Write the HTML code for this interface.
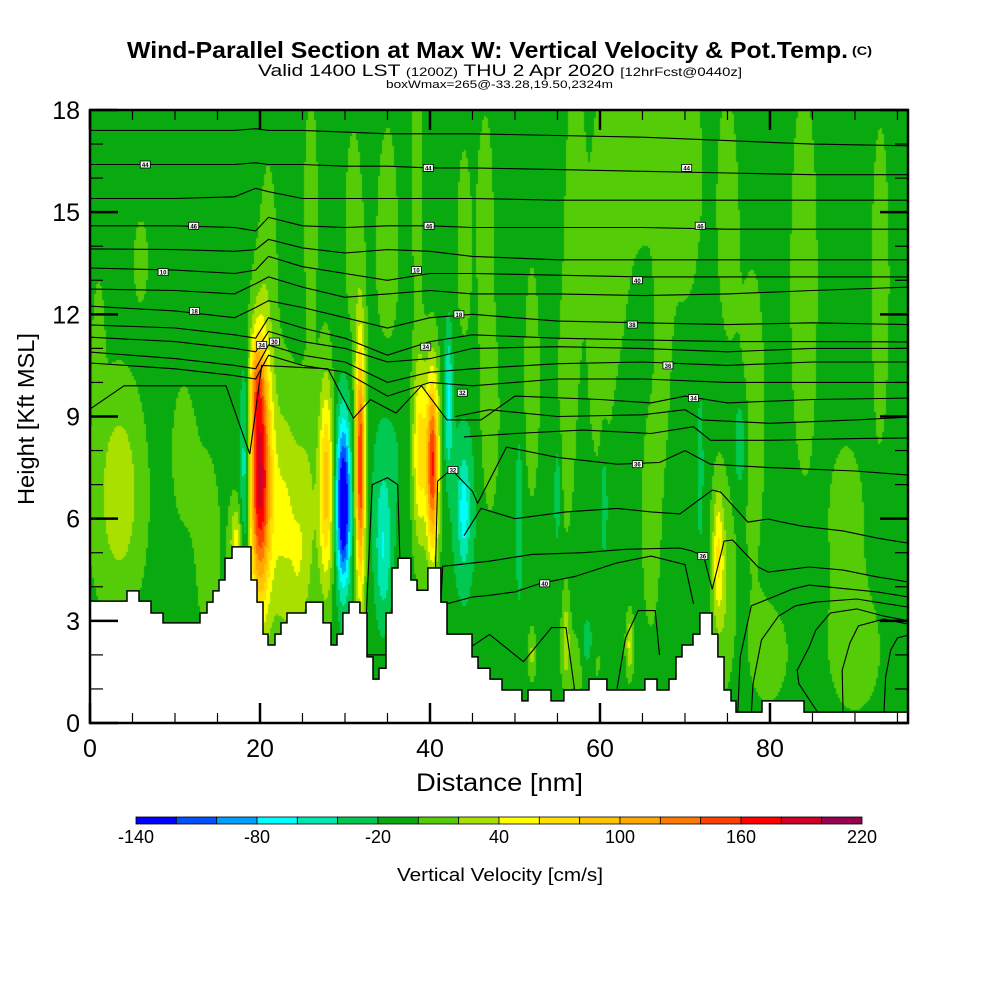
<!DOCTYPE html>
<html><head><meta charset="utf-8">
<style>
html,body{margin:0;padding:0;background:#fff;}
#wrap{position:relative;width:1000px;height:1000px;overflow:hidden;background:#fff;}
#field{position:absolute;left:90px;top:110px;}
#ov{position:absolute;left:0;top:0;}
text{font-family:"Liberation Sans",sans-serif;}
</style></head>
<body>
<div id="wrap">
<canvas id="field" width="818" height="613"></canvas>
<svg id="ov" width="1000" height="1000">
 <defs><clipPath id="pc"><rect x="90" y="110" width="818" height="613"/></clipPath></defs>
 <g id="contours" clip-path="url(#pc)"></g>
 <g id="terrain" clip-path="url(#pc)"></g>
 <g id="labels"></g>
 <g id="axes"></g>
 <g id="cbar"></g>
 <text x="127" y="58" font-size="23" font-weight="bold" textLength="721" lengthAdjust="spacingAndGlyphs">Wind-Parallel Section at Max W: Vertical Velocity &amp; Pot.Temp.</text>
 <text x="852" y="55" font-size="12" font-weight="bold" textLength="20" lengthAdjust="spacingAndGlyphs">(C)</text>
 <text x="258" y="76" font-size="17" textLength="484" lengthAdjust="spacingAndGlyphs">Valid 1400 LST <tspan font-size="12">(1200Z)</tspan> THU 2 Apr 2020 <tspan font-size="12">[12hrFcst@0440z]</tspan></text>
 <text x="386" y="88" font-size="11" textLength="227" lengthAdjust="spacingAndGlyphs">boxWmax=265@-33.28,19.50,2324m</text>
 <text x="416" y="791" font-size="25" textLength="167" lengthAdjust="spacingAndGlyphs">Distance [nm]</text>
 <text transform="translate(34,505) rotate(-90)" font-size="23" textLength="172" lengthAdjust="spacingAndGlyphs">Height [Kft MSL]</text>
 <text x="397" y="881" font-size="18" textLength="206" lengthAdjust="spacingAndGlyphs">Vertical Velocity [cm/s]</text>
</svg>
</div>
<script>
// ---------- data ----------
const xMax = 96.24, zMax = 18;
const levelColors = ["#0000ff","#0050ff","#00a0ff","#00ffff","#00e8b0","#00c850","#08aa10","#55cc08","#aae000","#ffff00","#ffe000","#ffc400","#ffa800","#ff7800","#ff4000","#ff0000","#d00028","#9a0050"];
const levelMin = -140, levelStep = 20;
const cbarLabels = [-140,-80,-20,40,100,160,220];
const xTickLabels = [0,20,40,60,80];
const yTickLabels = [0,3,6,9,12,15,18];
const baseW = -8;
// blobs: [x nm, z kft, sx nm, sz kft, amplitude cm/s]
const blobX   = [3.5,3,1,6,14,26,35,38.5,44,64,70,62,84,93,47,52,56,60,66,78,89,90,80,58,63.5,56,52,73.9,74.5,76.5,71.8,60.5,50.5,55,58.5,17.2,18.3,20.0,19.6,22.8,25.5,27.8,29.8,30,31.8,34.5,35,38.8,40.3,42.2,44,44,11,24.5,21,31,46.5,57,67.5,75];
const blobZ   = [6.8,6.5,11.5,13.6,5,15,13,16,14,17,16,15,13,13,9,10,9,11,6,9,6,2,2,1.8,2.3,2.5,2,5,4,8.2,7.5,6.5,6,6.8,2.3,5.3,7.5,7.2,10,6,6,7,6.4,7,7.5,5,8,8,7.6,9.5,6.3,6.2,8,4,13.5,14,15,15,12,15];
const blobSX  = [1.6,3,0.5,0.7,1.3,0.7,1.2,0.6,0.7,3.5,1.6,1.0,1.4,0.9,1.0,0.8,0.9,1.2,1.0,1.3,1.8,2.6,1.8,1.8,0.3,0.3,0.3,0.45,0.9,0.5,0.25,0.3,0.3,0.3,0.5,0.5,0.45,0.9,0.6,1.3,1,0.6,0.55,1,0.4,0.7,1.5,0.6,0.5,0.35,0.9,0.3,1.3,0.7,0.8,0.9,0.8,0.8,0.7,1.0];
const blobSZ  = [1.8,3,1.2,1,2.5,3,4,2.5,2.5,2.5,3,3,5,4,2.5,3,3,3,3,4,2,1.5,1.2,0.8,0.6,0.8,0.5,1.3,2,1,1.5,1.2,1.8,1.2,0.6,0.8,2.2,2.6,1,2.6,2.3,2.1,1.6,2.4,2.5,1.5,2,1.9,1.8,1.5,1.8,0.7,2,1.5,2.5,3,2.5,3,3,3];
const blobAmp = [34,12,15,15,14,15,15,15,15,16,15,15,15,15,15,15,15,15,14,14,14,14,14,15,50,42,32,55,26,-35,-30,-30,-30,-30,-35,55,-62,195,55,50,32,100,-135,-22,175,-48,-22,80,170,-55,-42,-30,12,16,15,15,15,15,15,15];
// terrain steps: start distance (nm) and height (kft)
const terrStart = [0,4.35,5.76,7.18,8.59,12.94,13.76,14.47,15.18,15.88,16.71,18.94,19.65,20.35,20.94,21.76,22.47,23.18,25.41,27.41,28.35,29.06,29.76,30.47,31.76,32.59,33.29,34.0,34.82,35.53,36.24,37.76,38.47,39.76,41.29,42.0,44.94,45.65,47.06,48.47,50.82,51.53,54.24,55.76,58.71,60.82,65.29,66.71,68.12,68.94,69.65,70.94,71.76,73.18,73.88,74.59,75.41,76.0,79.06,84.0];
const terrH = [3.58,3.88,3.58,3.23,2.94,3.23,3.55,3.88,4.20,4.84,5.17,4.20,3.55,2.61,2.29,2.61,2.94,3.23,3.55,2.94,2.29,2.61,3.23,3.55,3.23,1.94,1.29,1.61,3.23,4.55,4.84,4.20,3.90,4.55,3.55,2.61,1.94,1.61,1.29,0.97,0.65,0.97,0.65,0.97,1.29,0.97,1.29,0.97,1.29,1.94,2.29,2.61,3.23,2.61,1.94,0.97,0.65,0.32,0.65,0.32];
// potential temperature contours (nm, kft)
const flatX = [0,10,17,19.5,21,25,30,35,40,45,55,65,75,85,96.3];
const flatLines = [
 [17.4,17.4,17.4,17.45,17.4,17.4,17.35,17.3,17.3,17.3,17.25,17.2,17.1,17.0,16.95],
 [16.4,16.4,16.4,16.45,16.4,16.4,16.35,16.35,16.3,16.3,16.25,16.2,16.15,16.1,16.1],
 [15.4,15.4,15.45,15.7,15.6,15.4,15.4,15.4,15.4,15.4,15.35,15.35,15.35,15.35,15.35],
 [14.6,14.6,14.55,14.45,14.85,14.6,14.55,14.6,14.6,14.55,14.55,14.55,14.5,14.5,14.5],
 [13.92,13.9,13.85,13.9,14.2,13.95,13.8,13.9,13.85,13.7,13.6,13.6,13.6,13.6,13.6],
 [13.36,13.3,13.2,13.3,13.7,13.4,13.2,13.0,13.2,13.2,13.15,13.1,13.1,13.1,13.1],
 [12.74,12.7,12.6,12.9,13.1,12.8,12.5,12.6,12.7,12.6,12.6,12.55,12.6,12.7,12.8],
 [12.24,12.1,11.9,12.2,12.4,12.2,11.9,11.6,11.9,12.0,11.8,11.75,11.7,11.75,11.7],
 [11.69,11.6,11.4,11.3,11.9,11.6,11.3,10.8,11.2,11.4,11.3,11.25,11.2,11.2,11.19],
 [11.33,11.2,11.0,10.9,11.5,11.2,11.0,10.6,10.7,11.0,11.05,11.0,10.9,11.0,11.0],
 [10.89,10.7,10.5,10.4,11.1,10.8,10.6,10.0,10.3,10.4,10.55,10.6,10.5,10.6,10.6],
 [10.57,10.4,10.2,10.1,10.8,10.5,10.3,9.6,10.0,9.9,10.1,10.1,10.0,10.0,10.0]
];
const freeLines = [
 [[0,9.22],[4,9.9],[16,9.9],[18.8,7.9],[20.2,10.5],[28,10.4],[31,8.95],[33,9.5],[36,9.1],[39,9.9],[42,8.9],[46,8.9],[50,9.6],[60,9.5],[66,9.4],[70,9.6],[75,9.4],[85,9.5],[96.3,9.54]],
 [[43,9.0],[47,9.2],[55,9.0],[65,9.05],[70,9.2],[72,8.9],[80,8.8],[90,8.9],[96.3,8.98]],
 [[44,8.4],[50,8.5],[58,8.6],[66,8.5],[71,8.7],[73,8.3],[80,8.3],[90,8.35],[96.3,8.37]],
 [[0,2],[40.4,2],[40.9,7.1],[42.5,7.45],[45,6.8],[45.6,6.45],[49,8.1],[55,7.8],[62,7.6],[67,7.65],[70,8.0],[73,7.6],[80,7.5],[90,7.4],[96.3,7.28]],
 [[32.3,2],[33.2,7.0],[35,7.2],[36.2,7.0],[36.5,4.5]],
 [[44,5.5],[46,6.3],[50,6.0],[56,6.2],[62,6.3],[66,6.2],[69.4,6.14],[73.2,6.84],[74.2,6.78],[77.4,5.9],[79.8,5.99],[81.4,5.9],[83.8,5.78],[88.6,5.64],[92.6,5.43],[96.3,5.28]],
 [[0,2],[41,2],[41.5,4.6],[47,4.75],[52,4.95],[58,5.0],[63,5.1],[69.4,5.14],[70.8,5.05],[72.2,4.9],[73.2,3.93],[74.6,5.34],[75.6,5.37],[78.6,4.58],[79.8,4.43],[84.6,4.58],[88.6,4.49],[92.6,4.29],[96.3,4.14]],
 [[41.8,2],[42,3.5],[45,3.7],[47,3.75],[50,3.85],[53,4.1],[57,4.3],[62,4.7],[66,4.9],[70,4.65],[71,3.5]],
 [[44,2.1],[47,2.6],[51,1.8],[54.3,2.8],[56,2.8],[57,1]],
 [[62,1],[63,2.5],[64.5,3.3],[66.5,3.3],[67,2]],
 [[76.2,0.24],[76.5,1.94],[77.8,3.44],[79.8,3.64],[82.6,3.93],[84.6,4.05],[89.4,3.93],[92.6,3.85],[96.3,3.7]],
 [[77.8,0.24],[78,1.15],[79,2.44],[81,3.14],[83,3.44],[85.4,3.55],[90.2,3.64],[96.3,3.4]],
 [[85.8,0.24],[83.4,1.15],[83.2,1.55],[84.6,2.23],[85.4,2.73],[87.1,3.23],[90.2,3.35],[93.4,3.14],[96.3,3.0]],
 [[88.6,0.24],[88.5,1.55],[89.4,2.35],[90.4,2.85],[93.4,3.05],[96.3,2.9]],
 [[93.4,0.24],[93.6,1.35],[94.2,2.14],[95,2.5],[96.3,2.58]]
];
const labelPos = [[6.5,16.4],[12.2,14.6],[8.6,13.24],[12.3,12.1],[20.2,11.1],[21.7,11.2],[39.8,16.3],[39.9,14.6],[38.4,13.3],[43.4,12.0],[39.5,11.05],[43.8,9.7],[42.7,7.43],[53.5,4.1],[64.4,13.0],[63.8,11.7],[68,10.5],[71,9.54],[64.4,7.6],[72.1,4.9],[70.2,16.3],[71.8,14.6]];
const labelText = ["44","46","10","18","34","30","44","46","10","18","34","32","32","40","40","38","36","34","36","36","44","46"];

// ---------- scales ----------
const X = nm => 90 + nm * (818 / xMax);
const Y = k => 723 - k * (613 / zMax);
const NS = "http://www.w3.org/2000/svg";
function mk(tag, attrs, parent){ const e=document.createElementNS(NS,tag); for(const k in attrs) e.setAttribute(k,attrs[k]); parent.appendChild(e); return e; }

// ---------- field ----------
(function(){
 const cv=document.getElementById('field'), ctx=cv.getContext('2d');
 const cell=2;
 for(let py=0; py<613; py+=cell){
  const z = zMax*(1-(py+cell/2)/613);
  for(let px=0; px<818; px+=cell){
   const x = xMax*(px+cell/2)/818;
   let v=baseW;
   for(let i=0;i<blobX.length;i++){
    const dx=(x-blobX[i])/blobSX[i], dz=(z-blobZ[i])/blobSZ[i];
    const d=dx*dx+dz*dz; if(d<25) v+=blobAmp[i]*Math.exp(-d/2);
   }
   let idx=Math.floor((v-levelMin)/levelStep); idx=Math.max(0,Math.min(levelColors.length-1,idx));
   ctx.fillStyle=levelColors[idx]; ctx.fillRect(px,py,cell,cell);
  }
 }
})();

// ---------- contours ----------
const cg=document.getElementById('contours');
flatLines.forEach((ln,i)=>{
 const p=mk('polyline',{points:ln.map((k,j)=>X(flatX[j]).toFixed(1)+','+Y(k).toFixed(1)).join(' '),fill:'none',stroke:'#000','stroke-width':1.1},cg);
 
 
});
freeLines.forEach((ln,i)=>{
 const p=mk('polyline',{points:ln.map(q=>X(q[0]).toFixed(1)+','+Y(q[1]).toFixed(1)).join(' '),fill:'none',stroke:'#000','stroke-width':1.1},cg);
 
 
});

// ---------- terrain ----------
(function(){
 const tg=document.getElementById('terrain');
 let pts=[], top=[];
 for(let i=0;i<terrStart.length;i++){
  const s=terrStart[i], e=(i+1<terrStart.length)?terrStart[i+1]:xMax+0.2;
  top.push([X(s),Y(terrH[i])],[X(e),Y(terrH[i])]);
 }
 pts=[[X(0),Y(0)]].concat(top,[[X(xMax+0.2),Y(0)]]);
 const poly=mk('polygon',{points:pts.map(p=>p[0].toFixed(1)+','+p[1].toFixed(1)).join(' '),fill:'#fff',stroke:'none'},tg);
 
 
 const line=mk('polyline',{points:top.map(p=>p[0].toFixed(1)+','+p[1].toFixed(1)).join(' '),fill:'none',stroke:'#000','stroke-width':1.5},tg);
 
 
})();

// ---------- contour labels ----------
(function(){
 const lg=document.getElementById('labels');
 labelPos.forEach((p,i)=>{
  const g=mk('g',{},lg);
  
  
  mk('rect',{x:X(p[0])-5,y:Y(p[1])-3.5,width:10,height:7,fill:'#fff',stroke:'#000','stroke-width':0.8},g);
  const t=mk('text',{x:X(p[0]),y:Y(p[1])+2.5,'font-size':6,'text-anchor':'middle','font-weight':'bold'},g);
  t.textContent=labelText[i];
 });
})();

// ---------- axes ----------
(function(){
 const ag=document.getElementById('axes');
 const fr=mk('rect',{x:90,y:110,width:818,height:613,fill:'none',stroke:'#000','stroke-width':2.5},ag);
 
 
 for(let v=0; v<=xMax; v+=5){
  const major=(v%20===0), L=major?20:10, x=X(v);
  mk('line',{x1:x,y1:723,x2:x,y2:723-L,stroke:'#000','stroke-width':major?2.5:1.2},ag);
  mk('line',{x1:x,y1:110,x2:x,y2:110+L,stroke:'#000','stroke-width':major?2.5:1.2},ag);
 }
 for(let v=0; v<=zMax; v+=1){
  const major=(v%3===0), L=major?28:13, y=Y(v);
  mk('line',{x1:90,y1:y,x2:90+L,y2:y,stroke:'#000','stroke-width':major?2.5:1.2},ag);
  mk('line',{x1:908,y1:y,x2:908-L,y2:y,stroke:'#000','stroke-width':major?2.5:1.2},ag);
 }
 xTickLabels.forEach(v=>{
  const t=mk('text',{x:X(v),y:757,'font-size':25,'text-anchor':'middle'},ag);
  
  
  t.textContent=v;
 });
 yTickLabels.forEach(v=>{
  const t=mk('text',{x:80,y:Y(v)+9,'font-size':25,'text-anchor':'end'},ag);
  
  
  t.textContent=v;
 });
})();

// ---------- colorbar ----------
(function(){
 const g=document.getElementById('cbar');
 const x0=136, x1=862, w=(x1-x0)/levelColors.length;
 levelColors.forEach((c,i)=>{
  const r=mk('rect',{x:x0+i*w,y:817,width:w,height:7,fill:c,stroke:'#000','stroke-width':0.8},g);
  
  
 });
 cbarLabels.forEach(v=>{
  const t=mk('text',{x:x0+(v-levelMin)/levelStep*w,y:843,'font-size':18,'text-anchor':'middle'},g);
  
  
  t.textContent=v;
 });
})();
</script>
</body></html>
